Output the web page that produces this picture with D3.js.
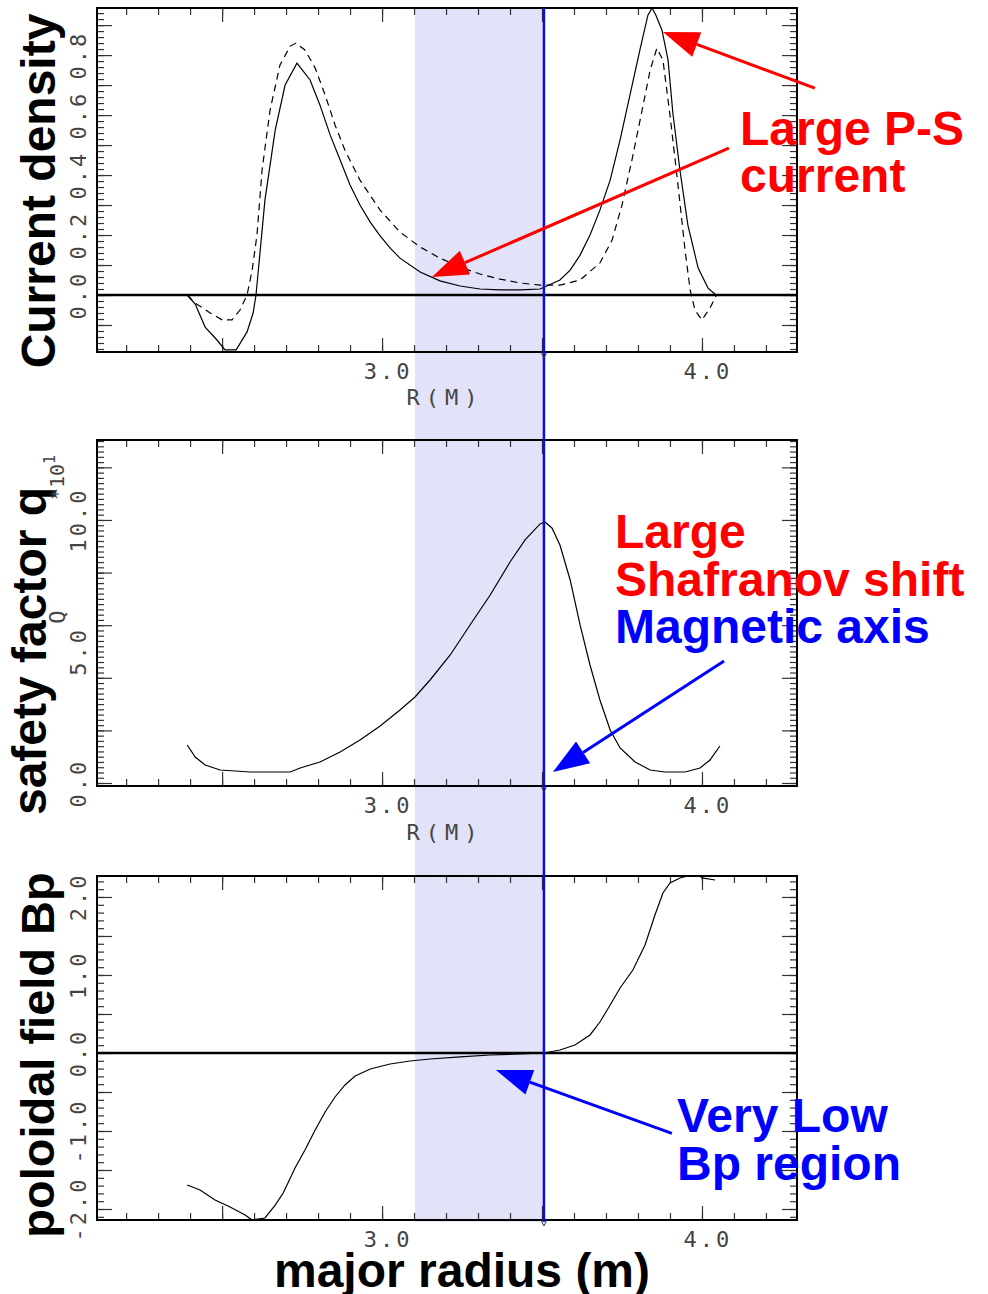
<!DOCTYPE html>
<html>
<head>
<meta charset="utf-8">
<script src="https://cdn.jsdelivr.net/npm/d3@7"></script>
<style>
body { margin: 0; background: #fff; }
svg { display: block; }
.tk line { stroke: #333; stroke-width: 1.2; }
.tk path { display: none; }
.num { font-family: "DejaVu Sans Mono", monospace; font-size: 22px; fill: #444; }
.big { font-family: "Liberation Sans", Arial, sans-serif; font-weight: bold; font-size: 48px; }
</style>
</head>
<body>
<div id="chart"></div>
<script>
// current density (solid and dashed), R in metres
const jR = [2.391, 2.416, 2.447, 2.484, 2.509, 2.544, 2.578, 2.597, 2.606, 2.634, 2.666, 2.697, 2.734,
  2.775, 2.806, 2.838, 2.869, 2.900, 2.931, 2.963, 2.994, 3.025, 3.056, 3.119, 3.181, 3.244, 3.306,
  3.369, 3.431, 3.494, 3.556, 3.588, 3.619, 3.650, 3.681, 3.713, 3.744, 3.775, 3.806, 3.831, 3.844,
  3.856, 3.875, 3.894, 3.909, 3.931, 3.956, 3.988, 4.019, 4.044];
const jSolid = [0, -0.03, -0.107, -0.15, -0.183, -0.183, -0.123, -0.06, 0, 0.317, 0.55, 0.70, 0.773,
  0.717, 0.633, 0.533, 0.45, 0.367, 0.30, 0.243, 0.197, 0.157, 0.123, 0.077, 0.047, 0.03, 0.02,
  0.017, 0.017, 0.02, 0.05, 0.083, 0.133, 0.20, 0.283, 0.383, 0.517, 0.667, 0.817, 0.933, 0.957,
  0.933, 0.883, 0.783, 0.607, 0.417, 0.233, 0.09, 0.023, 0];
const jDashR = [2.391, 2.416, 2.463, 2.500, 2.531, 2.556, 2.578, 2.594, 2.609, 2.625, 2.650, 2.681,
  2.713, 2.731, 2.759, 2.791, 2.822, 2.853, 2.884, 2.931, 2.994, 3.056, 3.119, 3.181, 3.244, 3.306,
  3.369, 3.431, 3.494, 3.556, 3.619, 3.681, 3.719, 3.750, 3.781, 3.813, 3.838, 3.859, 3.878, 3.900,
  3.925, 3.947, 3.963, 3.978, 4.000, 4.025, 4.044];
const jDashed = [0, -0.027, -0.06, -0.083, -0.083, -0.05, 0, 0.083, 0.20, 0.417, 0.617, 0.767,
  0.83, 0.84, 0.817, 0.757, 0.667, 0.567, 0.483, 0.383, 0.283, 0.21, 0.16, 0.123, 0.093, 0.07,
  0.053, 0.04, 0.033, 0.033, 0.05, 0.107, 0.183, 0.30, 0.45, 0.617, 0.75, 0.823, 0.783, 0.60,
  0.367, 0.15, 0.017, -0.05, -0.083, -0.043, -0.003];

// safety factor q (x10)
const qR = [2.391, 2.416, 2.447, 2.494, 2.588, 2.713, 2.744, 2.806, 2.869, 2.931, 2.994, 3.056,
  3.103, 3.150, 3.213, 3.275, 3.338, 3.400, 3.447, 3.494, 3.509, 3.531, 3.556, 3.588, 3.619, 3.650,
  3.681, 3.713, 3.744, 3.791, 3.838, 3.884, 3.947, 3.994, 4.025, 4.056];
const qVal = [1.445, 0.989, 0.684, 0.494, 0.418, 0.418, 0.570, 0.798, 1.179, 1.635, 2.167, 2.776,
  3.27, 3.916, 4.867, 6.008, 7.148, 8.403, 9.24, 9.848, 9.924, 9.696, 9.049, 7.719, 6.008, 4.487,
  3.156, 2.015, 1.331, 0.798, 0.494, 0.418, 0.418, 0.570, 0.875, 1.407];

// poloidal field Bp
const bR = [2.391, 2.431, 2.478, 2.525, 2.572, 2.594, 2.634, 2.666, 2.691, 2.728, 2.759, 2.791,
  2.822, 2.853, 2.884, 2.916, 2.963, 3.025, 3.088, 3.150, 3.244, 3.338, 3.431, 3.506, 3.556, 3.603,
  3.650, 3.681, 3.713, 3.744, 3.784, 3.822, 3.853, 3.878, 3.900, 3.931, 3.956, 3.994, 4.000, 4.041];
const bVal = [-1.692, -1.756, -1.885, -1.974, -2.077, -2.141, -2.115, -1.949, -1.795, -1.474,
  -1.244, -0.987, -0.756, -0.564, -0.41, -0.295, -0.205, -0.141, -0.103, -0.077, -0.051, -0.026,
  -0.013, 0, 0.038, 0.103, 0.231, 0.397, 0.615, 0.833, 1.064, 1.385, 1.769, 2.051, 2.179, 2.244,
  2.269, 2.269, 2.244, 2.218];

// tick labels
const xTickValues = [3.0, 4.0];
const xTickLabels = ['3.0', '4.0'];
const jTickValues = [0, 0.2, 0.4, 0.6, 0.8];
const jTickLabels = ['0.0', '0.2', '0.4', '0.6', '0.8'];
const qTickValues = [0, 5, 10];
const qTickLabels = ['0.0', '5.0', '10.0'];
const bTickValues = [-2, -1, 0, 1, 2];
const bTickLabels = ['-2.0', '-1.0', '0.0', '1.0', '2.0'];

const axisR = 3.506;          // magnetic axis
const lowBpRange = [3.103, 3.506];

const svg = d3.select('#chart')
  .append('svg')
  .attr('width', 988)
  .attr('height', 1294);

const x = d3.scaleLinear().domain([2.109, 4.297]).range([97, 797]);

const yJ = d3.scaleLinear().domain([-0.19, 0.957]).range([352, 8]);
const yQ = d3.scaleLinear().domain([-0.114, 13.04]).range([786, 440]);
const yB = d3.scaleLinear().domain([-2.141, 2.269]).range([1220, 876]);

const panels = [
  { y: yJ, minor: d3.range(-9, 48).map(i => i * 0.02), major: d3.range(-1, 10).map(i => i / 10),
    tv: jTickValues, tl: jTickLabels, xlabY: 379, rm: 405 },
  { y: yQ, minor: d3.range(0, 66).map(i => i * 0.2), major: d3.range(0, 7).map(i => i * 2),
    tv: qTickValues, tl: qTickLabels, xlabY: 813, rm: 840 },
  { y: yB, minor: d3.range(-21, 23).map(i => i / 10), major: d3.range(-4, 5).map(i => i / 2),
    tv: bTickValues, tl: bTickLabels, xlabY: 1247, rm: null }
];

// shaded low-Bp region and magnetic axis, spanning all three panels
svg.append('rect')
  .attr('x', x(lowBpRange[0]))
  .attr('width', x(lowBpRange[1]) - x(lowBpRange[0]))
  .attr('y', yJ.range()[1])
  .attr('height', yB.range()[0] - yJ.range()[1] + 2)
  .attr('fill', '#e2e2f9');

const xMinor = d3.range(22, 43).map(i => i / 10);
const xMajor = [2.5, 3.0, 3.5, 4.0];

panels.forEach(p => {
  const [y1, y0] = p.y.range();
  const g = svg.append('g');

  g.append('g').attr('class', 'tk').attr('transform', `translate(0,${y1})`)
    .call(d3.axisBottom(x).tickValues(xMinor).tickSize(-7).tickFormat(''));
  g.append('g').attr('class', 'tk').attr('transform', `translate(0,${y1})`)
    .call(d3.axisBottom(x).tickValues(xMajor).tickSize(-14).tickFormat(''));
  g.append('g').attr('class', 'tk').attr('transform', `translate(0,${y0})`)
    .call(d3.axisTop(x).tickValues(xMinor).tickSize(-7).tickFormat(''));
  g.append('g').attr('class', 'tk').attr('transform', `translate(0,${y0})`)
    .call(d3.axisTop(x).tickValues(xMajor).tickSize(-14).tickFormat(''));

  g.append('g').attr('class', 'tk').attr('transform', 'translate(97,0)')
    .call(d3.axisLeft(p.y).tickValues(p.minor).tickSize(-7).tickFormat(''));
  g.append('g').attr('class', 'tk').attr('transform', 'translate(97,0)')
    .call(d3.axisLeft(p.y).tickValues(p.major).tickSize(-15).tickFormat(''));
  g.append('g').attr('class', 'tk').attr('transform', 'translate(797,0)')
    .call(d3.axisRight(p.y).tickValues(p.minor).tickSize(-7).tickFormat(''));
  g.append('g').attr('class', 'tk').attr('transform', 'translate(797,0)')
    .call(d3.axisRight(p.y).tickValues(p.major).tickSize(-15).tickFormat(''));

  g.append('rect')
    .attr('x', 97).attr('y', y0)
    .attr('width', 700).attr('height', y1 - y0)
    .attr('fill', 'none').attr('stroke', '#000').attr('stroke-width', 2);

  // x tick labels
  g.selectAll('.xl').data(xTickValues).join('text')
    .attr('class', 'num')
    .attr('x', d => x(d) + 6)
    .attr('y', p.xlabY)
    .attr('text-anchor', 'middle')
    .attr('letter-spacing', 3)
    .text((d, i) => xTickLabels[i]);

  if (p.rm) {
    g.append('text').attr('class', 'num')
      .attr('x', 445).attr('y', p.rm)
      .attr('text-anchor', 'middle')
      .attr('letter-spacing', 6)
      .text('R(M)');
  }

  // y tick labels, rotated
  g.selectAll('.yl').data(p.tv).join('text')
    .attr('class', 'num')
    .attr('transform', d => `translate(78,${p.y(d)}) rotate(-90)`)
    .attr('text-anchor', 'middle')
    .attr('dy', '0.35em')
    .attr('letter-spacing', 3)
    .text((d, i) => p.tl[i]);
});

const line = d3.line();

const drawCurve = (rs, vs, y, dash) => {
  svg.append('path')
    .datum(rs.map((r, i) => [x(r), y(vs[i])]))
    .attr('fill', 'none')
    .attr('stroke', '#000')
    .attr('stroke-width', 1.2)
    .attr('stroke-dasharray', dash)
    .attr('d', line);
};

drawCurve(jR, jSolid, yJ, null);
drawCurve(jDashR, jDashed, yJ, '7,5');
drawCurve(qR, qVal, yQ, null);
drawCurve(bR, bVal, yB, null);

// zero lines
[yJ, yB].forEach(y => {
  svg.append('line')
    .attr('x1', 97).attr('x2', 797)
    .attr('y1', y(0)).attr('y2', y(0))
    .attr('stroke', '#000').attr('stroke-width', 2.5);
});

// magnetic axis line
svg.append('line')
  .attr('x1', x(axisR)).attr('x2', x(axisR))
  .attr('y1', yJ.range()[1]).attr('y2', yB.range()[0] + 2)
  .attr('stroke', '#0a0ae6').attr('stroke-width', 2.5);

// small markers where the axis meets each R axis
[yJ, yQ, yB].forEach(y => {
  const px = x(axisR), py = y.range()[0];
  svg.append('path')
    .attr('d', `M${px - 3},${py} L${px},${py + 6} L${px + 3},${py}`)
    .attr('fill', 'none').attr('stroke', '#333').attr('stroke-width', 1);
});

// axis titles
const titles = [
  { t: 'Current density', cy: 191, bx: 55, fs: 48 },
  { t: 'safety factor q', cy: 651, bx: 46, fs: 48 },
  { t: 'poloidal field Bp', cy: 1055, bx: 54, fs: 47 }
];
titles.forEach(d => {
  svg.append('text').attr('class', 'big')
    .attr('transform', `translate(${d.bx},${d.cy}) rotate(-90)`)
    .attr('text-anchor', 'middle')
    .style('font-size', d.fs + 'px')
    .text(d.t);
});

svg.append('text').attr('class', 'num')
  .attr('transform', `translate(57,617) rotate(-90)`)
  .attr('text-anchor', 'middle').attr('dy', '0.35em')
  .text('Q');

const sc = svg.append('text').attr('class', 'num')
  .attr('transform', `translate(64,500) rotate(-90)`)
  .style('font-size', '20px')
  .text('*10');
sc.append('tspan').attr('dy', -9).style('font-size', '15px').text('1');

svg.append('text').attr('class', 'big')
  .attr('x', 462).attr('y', 1287)
  .attr('text-anchor', 'middle')
  .text('major radius (m)');

// annotations
const notes = [
  { t: 'Large P-S', x: 740, y: 145, c: '#ff0000' },
  { t: 'current', x: 740, y: 192, c: '#ff0000' },
  { t: 'Large', x: 615, y: 548, c: '#ff0000' },
  { t: 'Shafranov shift', x: 615, y: 596, c: '#ff0000' },
  { t: 'Magnetic axis', x: 615, y: 643, c: '#0000ff' },
  { t: 'Very Low', x: 677, y: 1132, c: '#0000ff' },
  { t: 'Bp region', x: 677, y: 1180, c: '#0000ff' }
];
notes.forEach(d => {
  svg.append('text').attr('class', 'big')
    .attr('x', d.x).attr('y', d.y)
    .attr('fill', d.c)
    .text(d.t);
});

const arrows = [
  { from: [x(4.353), yJ(0.69)], to: [x(3.878), yJ(0.877)], c: '#ff0000' },
  { from: [x(4.084), yJ(0.49)], to: [x(3.156), yJ(0.06)], c: '#ff0000' },
  { from: [x(4.069), yQ(4.64)], to: [x(3.534), yQ(0.418)], c: '#0000ff' },
  { from: [x(3.906), yB(-1.03)], to: [x(3.356), yB(-0.218)], c: '#0000ff' }
];
arrows.forEach(a => {
  const [x1, y1] = a.from, [x2, y2] = a.to;
  const len = Math.hypot(x2 - x1, y2 - y1);
  const ux = (x2 - x1) / len, uy = (y2 - y1) / len;
  const hl = 36, hw = 13;
  const bx = x2 - ux * hl, by = y2 - uy * hl;
  svg.append('line')
    .attr('x1', x1).attr('y1', y1).attr('x2', bx).attr('y2', by)
    .attr('stroke', a.c).attr('stroke-width', 3);
  svg.append('path')
    .attr('d', `M${x2},${y2} L${bx - uy * hw},${by + ux * hw} L${bx + uy * hw},${by - ux * hw} Z`)
    .attr('fill', a.c);
});
</script>
</body>
</html>
